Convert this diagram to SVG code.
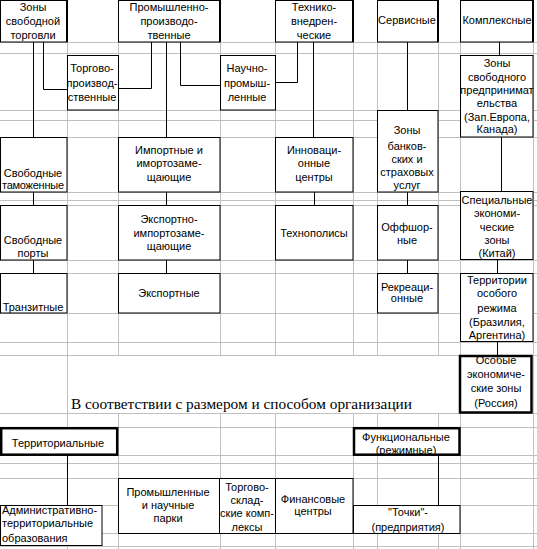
<svg xmlns="http://www.w3.org/2000/svg" width="537" height="549" viewBox="0 0 537 549">
<style>
.g{stroke:#c0c0c0;stroke-width:1;fill:none}
.b{fill:#fff;stroke:#000;stroke-width:1}
.bt{fill:#fff;stroke:#000;stroke-width:2.5}
.r{stroke:#000;stroke-width:2;fill:none}
.c{stroke:#000;stroke-width:1;fill:none}
text{font-family:"Liberation Sans",Arial,sans-serif;font-size:11px;fill:#000;text-anchor:middle}
.t{font-family:"Liberation Serif","Times New Roman",serif;font-size:15.5px;text-anchor:start}
.l{text-anchor:start}
</style>
<rect width="537" height="549" fill="#fff"/>
<g id="grid">
<path class="g" d="M67.5,0V549M118.5,0V355M118.5,413V549M220.5,0V355M220.5,413V549M275.5,0V355M275.5,413V549M353.5,0V355M353.5,413V549M377.5,0V355M377.5,413V549M438.5,0V355M438.5,413V549M460.5,0V549M533.5,0V549"/>
<path class="g" d="M0,42.5H537M0,53.5H537M0,110.5H537M0,120.5H537M0,137.5H537M0,192.5H537M0,200.5H537M0,205.5H537M0,260.5H537M0,273.5H537M0,313.5H537M0,342.5H537M0,355.5H537M0,413.5H537M0,427.5H537M0,455.5H537M0,463.5H537M0,478.5H537M0,505.5H537M0,533.5H537M0,546.5H537"/>
</g>
<g id="connectors">
<path class="c" d="M33.5,42V137M43.5,42V89.5H67M151.5,42V88.5H118M166.5,42V137M180.5,42V85.5H220M297.5,42V82.5H275M313.5,42V137M407.5,42V110M499.5,42V55M501.5,137V191M33.5,192V205M166.5,192V205M314.5,192V205M407.5,192V205M33.5,260V273M166.5,260V273M407.5,260V273M497.5,259V273M497.5,341V355M67.5,455V505M438.5,455V505"/>
</g>
<g id="n-zst"><rect class="b" x="0.5" y="0.5" width="66.5" height="41.5"/><path class="r" d="M67,0V42"/><text x="33" y="11">Зоны</text><text x="33" y="25">свободной</text><text x="33" y="39">торговли</text></g>
<g id="n-prom"><rect class="b" x="118.5" y="0.5" width="101.5" height="41.5"/><path class="r" d="M220,0V42"/><text x="169" y="11">Промышленно-</text><text x="169" y="25">производо-</text><text x="169" y="39">твенные</text></g>
<g id="n-tech"><rect class="b" x="275.5" y="0.5" width="77.5" height="41.5"/><path class="r" d="M353,0V42"/><text x="314" y="11">Технико-</text><text x="314" y="25">внедрен-</text><text x="314" y="39">ческие</text></g>
<g id="n-serv"><rect class="b" x="377.5" y="0.5" width="60.5" height="41.5"/><path class="r" d="M438,0V42"/><text x="407" y="24">Сервисные</text></g>
<g id="n-kompl"><rect class="b" x="460.5" y="0.5" width="72.5" height="41.5"/><path class="r" d="M533,0V42"/><text x="497" y="24">Комплексные</text></g>
<g id="n-torgprod"><rect class="b" x="67.5" y="55.5" width="51" height="54.5"/><text x="92" y="72">Торгово-</text><text x="92" y="87">производ-</text><text x="92" y="101">ственные</text></g>
<g id="n-nauch"><rect class="b" x="220.5" y="55.5" width="55" height="54.5"/><text x="247" y="72">Научно-</text><text x="247" y="87">промыш-</text><text x="247" y="101">ленные</text></g>
<g id="n-zsp"><rect class="b" x="460.5" y="55.5" width="72.5" height="81.5"/><text x="497" y="67">Зоны</text><text x="497" y="81">свободного</text><text x="497" y="94">предпринимат</text><text x="497" y="107">ельства</text><text x="497" y="121">(Зап.Европа,</text><text x="497" y="133">Канада)</text></g>
<g id="n-bank"><rect class="b" x="377.5" y="110.5" width="60.5" height="81.5"/><text x="407" y="134">Зоны</text><text x="407" y="150">банков-</text><text x="407" y="163">ских и</text><text x="407" y="176">страховых</text><text x="407" y="189">услуг</text></g>
<g id="n-tamozh"><rect class="b" x="0.5" y="137.5" width="66.5" height="54.5"/><text x="33" y="177">Свободные</text><text x="33" y="189" textLength="62">таможенные</text></g>
<g id="n-import"><rect class="b" x="118.5" y="137.5" width="101.5" height="54.5"/><text x="169" y="154">Импортные и</text><text x="169" y="167">имортозаме-</text><text x="169" y="181">щающие</text></g>
<g id="n-innov"><rect class="b" x="275.5" y="137.5" width="77.5" height="54.5"/><text x="314" y="154">Инновaци-</text><text x="314" y="167">онные</text><text x="314" y="181">центры</text></g>
<g id="n-spec"><rect class="b" x="460.5" y="191.5" width="72.5" height="68"/><text x="497" y="204">Специальные</text><text x="497" y="217">экономи-</text><text x="497" y="231">ческие</text><text x="497" y="244">зоны</text><text x="497" y="257">(Китай)</text></g>
<g id="n-porty"><rect class="b" x="0.5" y="205.5" width="66.5" height="54.5"/><text x="33" y="244">Свободные</text><text x="33" y="257">порты</text></g>
<g id="n-eksimp"><rect class="b" x="118.5" y="205.5" width="101.5" height="54.5"/><text x="169" y="223">Экспортно-</text><text x="169" y="237">импортозаме-</text><text x="169" y="250">щающие</text></g>
<g id="n-tehnopol"><rect class="b" x="275.5" y="205.5" width="77.5" height="54.5"/><text x="314" y="237">Технополисы</text></g>
<g id="n-offsh"><rect class="b" x="377.5" y="205.5" width="60.5" height="54.5"/><text x="407" y="231">Оффшор-</text><text x="407" y="244">ные</text></g>
<g id="n-tranz"><rect class="b" x="0.5" y="273.5" width="66.5" height="39.5"/><text x="33" y="311">Транзитные</text></g>
<g id="n-eksp"><rect class="b" x="118.5" y="273.5" width="101.5" height="39.5"/><text x="169" y="297">Экспортные</text></g>
<g id="n-rekr"><rect class="b" x="377.5" y="273.5" width="60.5" height="39.5"/><text x="407" y="291">Рекреаци-</text><text x="407" y="302">онные</text></g>
<g id="n-terr"><rect class="b" x="460.5" y="273.5" width="72.5" height="68"/><text x="497" y="284">Территории</text><text x="497" y="297">особого</text><text x="497" y="312">режима</text><text x="497" y="326">(Бразилия,</text><text x="497" y="339">Аргентина)</text></g>
<g id="n-oez"><rect class="bt" x="460" y="356" width="71.5" height="56.5"/><text x="496" y="364">Особые</text><text x="496" y="378">экономиче-</text><text x="496" y="392">ские зоны</text><text x="496" y="407">(Россия)</text></g>
<text class="t" x="71" y="409" textLength="341" lengthAdjust="spacingAndGlyphs">В соответствии с размером и способом организации</text>
<g id="n-territ"><rect class="bt" x="1.2" y="428.2" width="116" height="26.5"/><text x="58" y="447">Территориальные</text></g>
<g id="n-funk"><rect class="bt" x="354" y="428.2" width="105.5" height="26.5"/><text x="406" y="441">Функциональные</text><text x="406" y="454">(режимные)</text></g>
<g id="n-adm"><rect class="b" x="0.5" y="505.5" width="101.5" height="40"/><text class="l" x="2" y="514">Административно-</text><text class="l" x="2" y="527">территориальные</text><text class="l" x="2" y="542">образования</text></g>
<g id="n-parki"><rect class="b" x="118.5" y="478.5" width="101" height="55"/><text x="168" y="496">Промышленные</text><text x="168" y="509">и научные</text><text x="168" y="522">парки</text></g>
<g id="n-torgskl"><rect class="b" x="219.5" y="478.5" width="56" height="55"/><text x="247" y="491">Торгово-</text><text x="247" y="504">склад-</text><text x="247" y="517">ские комп-</text><text x="247" y="531">лексы</text></g>
<g id="n-fin"><rect class="b" x="275.5" y="478.5" width="77.5" height="55"/><text x="313" y="503">Финансовые</text><text x="313" y="515">центры</text></g>
<g id="n-tochki"><rect class="b" x="353.5" y="505.5" width="106.5" height="28"/><text x="408" y="516">"Точки"-</text><text x="408" y="531">(предприятия)</text></g>
</svg>
